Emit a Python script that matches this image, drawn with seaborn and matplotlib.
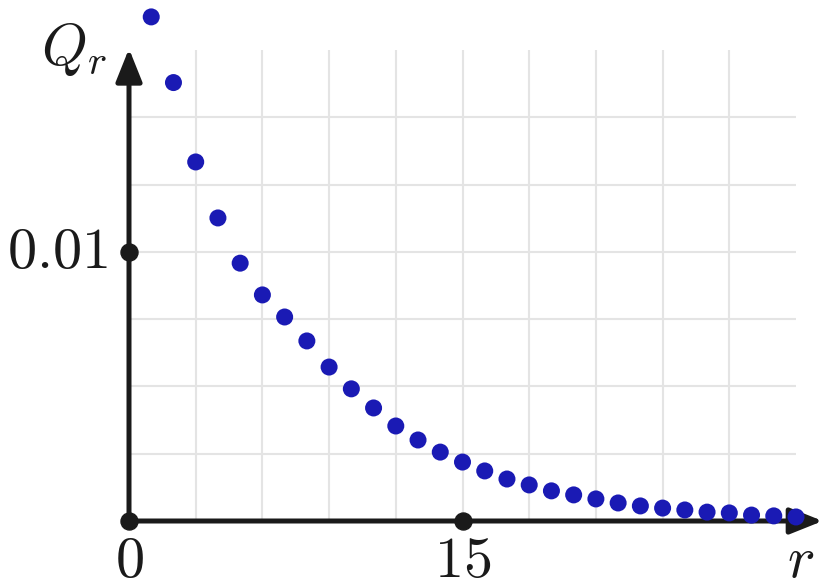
import numpy as np
import matplotlib
matplotlib.use("Agg")
import matplotlib.pyplot as plt
import seaborn as sns

sns.set_style("white")
plt.rcParams['mathtext.fontset'] = 'cm'

# data
r = list(range(1, 31))
q_r = [0.01873, 0.01629, 0.01334, 0.01126, 0.00958, 0.00840, 0.00758, 0.00669,
       0.00572, 0.00491, 0.00420, 0.00353, 0.00301, 0.00256, 0.00219, 0.00186,
       0.00156, 0.00134, 0.00112, 0.00097, 0.00082, 0.00067, 0.00056, 0.00048,
       0.00041, 0.00033, 0.00030, 0.00022, 0.00019, 0.00015]

x_ticks = [0, 15]
x_tick_labels = ["$0$", "$15$"]
y_ticks = [0.01]
y_tick_labels = ["$0.01$"]
x_grid = [3, 6, 9, 12, 15, 18, 21, 24, 27]
y_grid = [0.0025, 0.005, 0.0075, 0.01, 0.0125, 0.015]

axis_color = '#1a1a1a'
dot_color = '#1a1ab4'

fig = plt.figure(figsize=(8.3, 5.87), dpi=100)
W, H = 830, 587
ax = fig.add_axes([129 / W, 66 / H, 667 / W, 471 / H])
ax.set_xlim(0, 30)
ax.set_ylim(0, 0.0175)

# grid
ax.set_xticks(x_grid)
ax.set_yticks(y_grid)
ax.grid(True, color='#e4e4e4', linewidth=1.5)
ax.tick_params(length=0, labelbottom=False, labelleft=False)
for s in ax.spines.values():
    s.set_visible(False)

# axes with arrows
arrow_kw = dict(arrowstyle='-|>,head_length=0.5,head_width=0.2', mutation_scale=40,
                lw=3.6, color=axis_color, shrinkA=0, shrinkB=0)
ax.annotate('', xy=(31.2, 0), xytext=(0, 0), arrowprops=arrow_kw,
            annotation_clip=False, zorder=3)
ax.annotate('', xy=(0, 0.01755), xytext=(0, 0), arrowprops=arrow_kw,
            annotation_clip=False, zorder=3)

# tick dots
ax.scatter(x_ticks, [0] * len(x_ticks), s=150, color=axis_color, clip_on=False, zorder=4)
ax.scatter([0] * len(y_ticks), y_ticks, s=150, color=axis_color, clip_on=False, zorder=4)

# data points
sns.scatterplot(x=r, y=q_r, s=150, color=dot_color, edgecolor='none',
                clip_on=False, zorder=5, ax=ax)

fs = 42
for xv, lab in zip(x_ticks, x_tick_labels):
    ax.annotate(lab, xy=(xv, 0), xytext=(0, -8), textcoords='offset points',
                ha='center', va='top', fontsize=fs, color=axis_color, annotation_clip=False)
for yv, lab in zip(y_ticks, y_tick_labels):
    ax.annotate(lab, xy=(0, yv), xytext=(-15, 0), textcoords='offset points',
                ha='right', va='center', fontsize=fs, color=axis_color, annotation_clip=False)

ax.annotate("$r$", xy=(30.2, 0), xytext=(0, -8), textcoords='offset points',
            ha='center', va='top', fontsize=fs, color=axis_color, annotation_clip=False)
fig.text(74 / W, 1 - 50 / H, "$Q_r$", ha='center', va='center', fontsize=fs, color=axis_color)

fig.savefig("out.png", dpi=100)
